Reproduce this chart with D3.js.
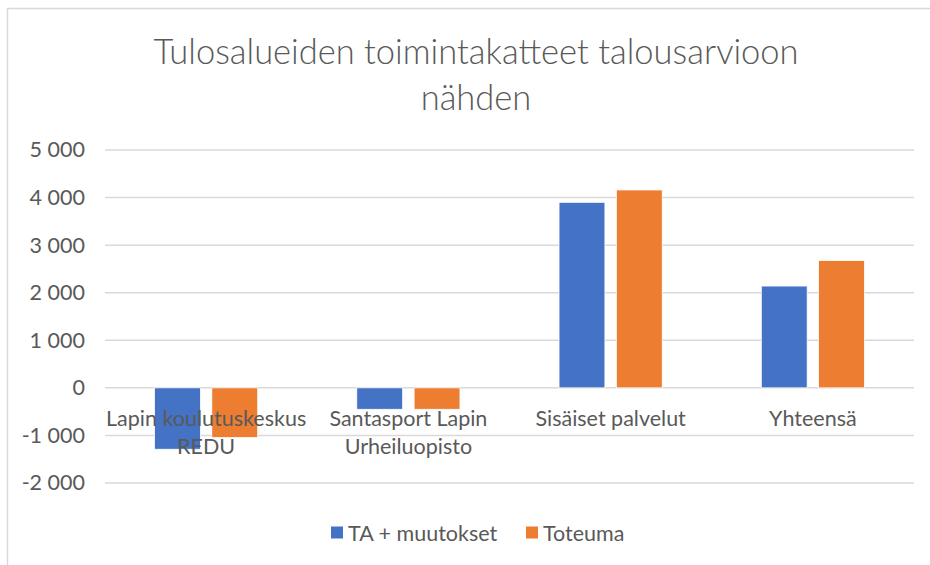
<!DOCTYPE html>
<html>
<head>
<meta charset="utf-8">
<script src="https://cdn.jsdelivr.net/npm/d3@7"></script>
<style>
  body { margin: 0; background: #fff; }
  svg { display: block; font-family: Lato, "Noto Sans", sans-serif; }
</style>
</head>
<body>
<div id="chart"></div>
<script>
// Chart data
const categories = ["Lapin koulutuskeskus REDU", "Santasport Lapin Urheiluopisto", "Sisäiset palvelut", "Yhteensä"];
const seriesNames = ["TA + muutokset", "Toteuma"];
const taMuutokset = [-1290, -450, 3900, 2140];
const toteuma = [-1045, -450, 4160, 2675];
const yTicks = [-2000, -1000, 0, 1000, 2000, 3000, 4000, 5000];
const titleLines = ["Tulosalueiden toimintakatteet talousarvioon", "nähden"];

const colors = ["#4472C4", "#ED7D31"];
const textColor = "#595959";

const width = 930, height = 565;
const plot = { left: 105, right: 914, top: 150, bottom: 483 };

const svg = d3.select("#chart")
    .append("svg")
    .attr("width", width)
    .attr("height", height);

// Chart area border
svg.append("rect")
    .attr("x", 7.5)
    .attr("y", 8.5)
    .attr("width", 1000)
    .attr("height", 1000)
    .attr("fill", "#fff")
    .attr("stroke", "#D9D9D9")
    .attr("stroke-width", 1.5);

// Title
svg.append("text")
    .attr("text-anchor", "middle")
    .attr("fill", textColor)
    .style("font-size", "34.5px")
    .style("font-weight", 300)
    .selectAll("tspan")
    .data(titleLines)
    .enter()
    .append("tspan")
    .attr("x", 476)
    .attr("y", (d, i) => 64 + i * 46)
    .text((d) => d);

// Scales
const x0 = d3.scaleBand()
    .domain(categories)
    .range([plot.left, plot.right])
    .paddingInner(0.49)
    .paddingOuter(0.245);

const x1 = d3.scaleBand()
    .domain(seriesNames)
    .range([0, x0.bandwidth()])
    .paddingInner(0.2);

const y = d3.scaleLinear()
    .domain([-2000, 5000])
    .range([plot.bottom, plot.top]);

// Gridlines
svg.append("g")
    .selectAll("line")
    .data(yTicks)
    .enter()
    .append("line")
    .attr("x1", plot.left)
    .attr("x2", plot.right)
    .attr("y1", (d) => y(d))
    .attr("y2", (d) => y(d))
    .attr("stroke", "#D9D9D9")
    .attr("stroke-width", 1.5);

// Y axis labels, "5 000" style with a plain hyphen for negatives
const yAxis = svg.append("g")
    .attr("transform", `translate(${plot.left - 20},0)`)
    .call(d3.axisLeft(y).tickValues(yTicks).tickSize(0).tickPadding(0)
        .tickFormat((d) => d3.format(",")(d).replace(",", " ").replace("\u2212", "-")));
yAxis.select(".domain").remove();
yAxis.selectAll("text")
    .attr("fill", textColor)
    .style("font-size", "21.5px")
    .style("font-family", "Lato, sans-serif");

// Bars
const rows = categories.map((c, i) => ({ category: c, values: [taMuutokset[i], toteuma[i]] }));

svg.append("g")
    .selectAll("g")
    .data(rows)
    .enter()
    .append("g")
    .attr("transform", (d) => `translate(${x0(d.category)},0)`)
    .selectAll("rect")
    .data((d) => d.values.map((v, j) => ({ name: seriesNames[j], value: v, idx: j })))
    .enter()
    .append("rect")
    .attr("x", (d) => x1(d.name))
    .attr("width", x1.bandwidth())
    .attr("y", (d) => y(Math.max(0, d.value)))
    .attr("height", (d) => Math.abs(y(d.value) - y(0)))
    .attr("fill", (d) => colors[d.idx])
    .attr("stroke", "#fff")
    .attr("stroke-width", 0.75);

// Category labels (drawn over the bars, as in the original)
const catLabels = svg.append("g")
    .selectAll("text")
    .data(categories)
    .enter()
    .append("text")
    .attr("text-anchor", "middle")
    .attr("fill", textColor)
    .style("font-size", "21.5px");

catLabels.each(function (d) {
    const t = d3.select(this);
    const cx = x0(d) + x0.bandwidth() / 2;
    const words = d.split(" ");
    const lines = [];
    let line = [];
    words.forEach((w) => {
        line.push(w);
        t.text(line.join(" "));
        if (this.getComputedTextLength() > 225 && line.length > 1) {
            line.pop();
            lines.push(line.join(" "));
            line = [w];
        }
    });
    lines.push(line.join(" "));
    t.text(null);
    lines.forEach((l, i) => {
        t.append("tspan")
            .attr("x", cx)
            .attr("y", y(0) + 38 + i * 28)
            .text(l);
    });
});

// Legend
const legend = svg.append("g")
    .attr("transform", "translate(331,533)");

const legendItems = legend.selectAll("g")
    .data(seriesNames)
    .enter()
    .append("g")
    .attr("transform", (d, i) => `translate(${i * 195},0)`);

legendItems.append("rect")
    .attr("x", 0)
    .attr("y", -6.5)
    .attr("width", 12)
    .attr("height", 12)
    .attr("fill", (d, i) => colors[i]);

legendItems.append("text")
    .attr("x", 17)
    .attr("y", 7.5)
    .attr("fill", textColor)
    .style("font-size", "21.5px")
    .text((d) => d);
</script>
</body>
</html>
